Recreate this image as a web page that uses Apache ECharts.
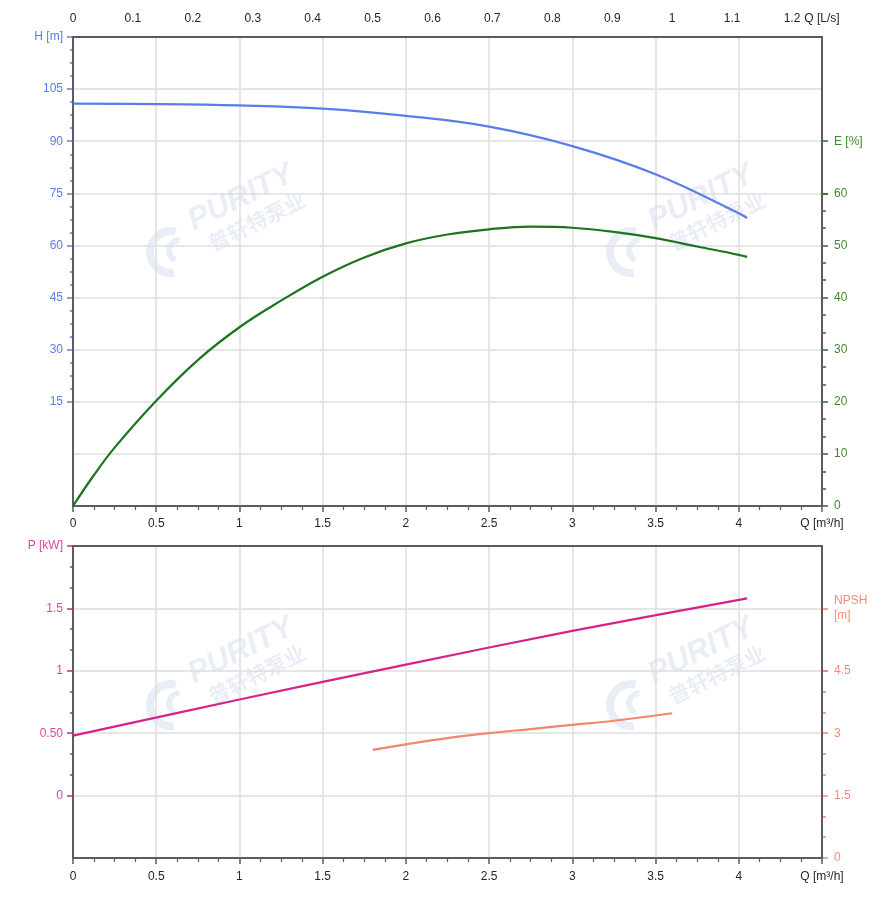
<!DOCTYPE html>
<html><head><meta charset="utf-8">
<script src="https://cdn.jsdelivr.net/npm/echarts@6/dist/echarts.min.js"></script>
<style>html,body{margin:0;padding:0;background:#fff}#c{width:887px;height:912px}</style>
</head><body><div id="c"></div>
<script>
// ---- data ----
const qH    = [0, 0.5, 1, 1.5, 2, 2.5, 3, 3.5, 4, 4.05];
const hVals = [100.8, 100.7, 100.3, 99.4, 97.3, 94.2, 88.6, 80.5, 69.3, 67.9];
const qE    = [0, 0.125, 0.25, 0.5, 0.75, 1, 1.25, 1.5, 1.75, 2, 2.25, 2.5, 2.75, 3, 3.25, 3.5, 3.75, 4, 4.05];
const eVals = [0, 5.9, 11.2, 20.2, 28.0, 34.3, 39.4, 44.0, 47.7, 50.4, 52.1, 53.1, 53.6, 53.4, 52.6, 51.4, 49.8, 48.2, 47.8];
const qP    = [0, 1, 2, 3, 4.05];
const pVals = [0.48, 0.77, 1.05, 1.32, 1.58];
const qN    = [1.8, 2, 2.25, 2.5, 2.75, 3, 3.25, 3.6];
const nVals = [2.6, 2.73, 2.88, 3.0, 3.1, 3.2, 3.3, 3.48];
const qName = 'Q [m³/h]', qlsName = 'Q [L/s]';
const hName = 'H [m]', eName = 'E [%]', pName = 'P [kW]', nName = 'NPSH\n[m]';

// ---- layout ----
const L = 73, W = 749, T1 = 37, H1 = 469, T2 = 546, H2 = 312;
const yAt = (top, h, mn, mx, v) => top + h * (mx - v) / (mx - mn);
const hTickBottom = yAt(T1, H1, -15, 120, 15);
const eTickTop = yAt(T1, H1, 0, 90, 60);
const eNameTop = yAt(T1, H1, 0, 90, 70);
const pTickBottom = yAt(T2, H2, -0.5, 2, 0);
const nTickTop = yAt(T2, H2, 0, 7.5, 4.5);
const nNameTop = yAt(T2, H2, 0, 7.5, 6);

const FONT = "'Liberation Sans', Arial, sans-serif";
const C_H = '#5a7de9', C_E = '#1c7420', C_EL = '#3f8a2c', C_P = '#d6228b', C_PL = '#e0449c', C_N = '#f5866d', C_NL = '#f68c7a';
const AX = '#5c5c5c', GRID = '#dedede';

const pair = (xs, ys) => xs.map((x, i) => [x, ys[i]]);
const NOLINE = { show: false, onZero: false };
const OFF = { show: false };
const SPLIT = { show: true, showMinLine: false, showMaxLine: false, lineStyle: { color: GRID, width: 1.5 } };
const hidden = (g) => ({ gridIndex: g, type: 'value', min: 0, max: 1, axisLine: NOLINE, axisTick: OFF, axisLabel: OFF, splitLine: OFF });
const lab = (color, margin, extra) => Object.assign({ color, fontSize: 12, fontFamily: FONT, margin }, extra || {});
const mainGrid = (top, h) => ({ left: L, width: W, top, height: h, show: true, borderColor: AX, borderWidth: 2, z: 3 });
const helpGrid = (top, h, w) => ({ left: L, width: w || W, top, height: h, show: false });

const chart = echarts.init(document.getElementById('c'), null, { renderer: 'canvas' });

function mark(x, y) {
  const fill = 'rgba(175,190,218,0.28)';
  return {
    type: 'group', x, y, rotation: 0.46,
    children: [
      { type: 'text', style: { text: 'PURITY', x: 0, y: 0, verticalAlign: 'bottom', font: 'italic bold 31px ' + FONT, fill } },
      { type: 'text', style: { text: '普轩特泵业', x: 8, y: 2, verticalAlign: 'top', font: "bold 21px 'Noto Sans CJK SC'", fill } },
      { type: 'arc', shape: { cx: -30, cy: 2, r: 21, startAngle: 1.9, endAngle: 5.4 }, style: { stroke: fill, lineWidth: 8, fill: null } },
      { type: 'arc', shape: { cx: -22, cy: 4, r: 10, startAngle: 2.4, endAngle: 5.2 }, style: { stroke: fill, lineWidth: 6, fill: null } }
    ]
  };
}

function tickAxis(g, pos, mn, mx, step, color, labColor, margin, minorN, minorLen, fmt) {
  const ax = { gridIndex: g, type: 'value', min: mn, max: mx, interval: step, position: pos,
    axisLine: NOLINE,
    axisTick: { show: true, length: 6, lineStyle: { color, width: 1.5 } },
    axisLabel: lab(labColor, margin, { showMaxLabel: true, showMinLabel: true, formatter: fmt }),
    splitLine: OFF };
  if (minorN) ax.minorTick = { show: true, splitNumber: minorN, length: minorLen, lineStyle: { color, width: 1.5 } };
  return ax;
}

const option = {
  animation: false,
  backgroundColor: '#fff',
  textStyle: { fontFamily: FONT },
  grid: [
    mainGrid(T1, H1), mainGrid(T2, H2),
    helpGrid(T1, hTickBottom - T1),
    helpGrid(eTickTop, T1 + H1 - eTickTop),
    helpGrid(T1, H1, W * 1.2 / 1.25),
    helpGrid(T2, pTickBottom - T2),
    helpGrid(nTickTop, T2 + H2 - nTickTop),
    helpGrid(eNameTop, eTickTop - eNameTop),
    helpGrid(nNameTop, nTickTop - nNameTop)
  ],
  xAxis: [
    { gridIndex: 0, type: 'value', min: 0, max: 4.5, interval: 0.5, position: 'bottom',
      axisLine: NOLINE,
      axisTick: { show: true, length: 6, lineStyle: { color: AX, width: 1.5 } },
      minorTick: { show: true, splitNumber: 4, length: 4, lineStyle: { color: AX, width: 1.2 } },
      axisLabel: lab('#262626', 12, { showMaxLabel: true, formatter: v => v === 4.5 ? qName : String(v) }),
      splitLine: SPLIT },
    { gridIndex: 0, type: 'value', min: 0, max: 1.25, interval: 0.1, position: 'top',
      axisLine: NOLINE, axisTick: OFF,
      axisLabel: lab('#262626', 12, { showMaxLabel: true, showMinLabel: true,
        formatter: v => Math.abs(v - 1.25) < 1e-6 ? qlsName : String(+v.toFixed(1)) }),
      splitLine: OFF },
    { gridIndex: 1, type: 'value', min: 0, max: 4.5, interval: 0.5, position: 'bottom',
      axisLine: NOLINE,
      axisTick: { show: true, length: 6, lineStyle: { color: AX, width: 1.5 } },
      minorTick: { show: true, splitNumber: 4, length: 4, lineStyle: { color: AX, width: 1.2 } },
      axisLabel: lab('#262626', 13, { showMaxLabel: true, formatter: v => v === 4.5 ? qName : String(v) }),
      splitLine: SPLIT },
    hidden(2), hidden(3),
    { gridIndex: 4, type: 'value', min: 0, max: 1.2, interval: 0.1, position: 'top',
      axisLine: NOLINE,
      axisTick: { show: true, length: 6, lineStyle: { color: AX, width: 1.5 } },
      minorTick: { show: true, splitNumber: 3, length: 4, lineStyle: { color: AX, width: 1.2 } },
      axisLabel: OFF, splitLine: OFF },
    hidden(5), hidden(6), hidden(7), hidden(8)
  ],
  yAxis: [
    { gridIndex: 0, type: 'value', min: -15, max: 120, interval: 15, position: 'left',
      axisLine: NOLINE, axisTick: OFF, axisLabel: OFF, splitLine: SPLIT },
    { gridIndex: 0, type: 'value', min: 0, max: 90, interval: 10, position: 'right',
      axisLine: NOLINE, axisTick: OFF, axisLabel: OFF, splitLine: OFF },
    { gridIndex: 1, type: 'value', min: -0.5, max: 2, interval: 0.5, position: 'left',
      axisLine: NOLINE, axisTick: OFF, axisLabel: OFF, splitLine: SPLIT },
    { gridIndex: 1, type: 'value', min: 0, max: 7.5, interval: 1.5, position: 'right',
      axisLine: NOLINE, axisTick: OFF, axisLabel: OFF, splitLine: OFF },
    tickAxis(2, 'left', 15, 120, 15, C_H, C_H, 10, 4, 3, v => v === 120 ? hName : String(v)),
    tickAxis(3, 'right', 0, 60, 10, C_E, C_EL, 12, 3, 4, v => String(v)),
    tickAxis(5, 'left', 0, 2, 0.5, C_P, C_PL, 10, 3, 3, v => v === 2 ? pName : (v === 0.5 ? '0.50' : String(v))),
    tickAxis(6, 'right', 0, 4.5, 1.5, C_N, C_NL, 12, 3, 4, v => String(v)),
    tickAxis(7, 'right', 60, 70, 10, C_E, C_EL, 12, 0, 0, v => v === 70 ? eName : ''),
    Object.assign(tickAxis(8, 'right', 4.5, 6, 1.5, C_N, C_NL, 12, 0, 0, v => v === 6 ? nName : ''),
      { axisLabel: lab(C_NL, 12, { showMaxLabel: true, showMinLabel: true, lineHeight: 15, align: 'left',
        formatter: v => v === 6 ? nName : '' }) })
  ],
  series: [
    { name: 'H', type: 'line', xAxisIndex: 0, yAxisIndex: 0, data: pair(qH, hVals), smooth: 0.4,
      showSymbol: false, lineStyle: { color: C_H, width: 2.2 }, z: 5 },
    { name: 'E', type: 'line', xAxisIndex: 0, yAxisIndex: 1, data: pair(qE, eVals), smooth: 0.4,
      showSymbol: false, lineStyle: { color: C_E, width: 2.2 }, z: 5 },
    { name: 'P', type: 'line', xAxisIndex: 2, yAxisIndex: 2, data: pair(qP, pVals), smooth: 0.3,
      showSymbol: false, lineStyle: { color: C_P, width: 2.2 }, z: 5 },
    { name: 'NPSH', type: 'line', xAxisIndex: 2, yAxisIndex: 3, data: pair(qN, nVals), smooth: 0.4,
      showSymbol: false, lineStyle: { color: C_N, width: 2.2 }, z: 5 }
  ],
  graphic: [mark(197, 237), mark(657, 237), mark(197, 690), mark(657, 690)]
};

let failed = false;
try { chart.setOption(option); } catch (e) { failed = true; }
if (failed) {
  // keep one failing view from stopping the remaining views from drawing
  const views = [].concat(chart._componentsViews || [], chart._chartsViews || []);
  views.forEach(v => {
    if (!v || typeof v.render !== 'function' || v.__guarded) return;
    const orig = v.render;
    v.render = function () {
      try { return orig.apply(this, arguments); } catch (e) { /* ignore */ }
    };
    v.__guarded = true;
  });
  try { chart.setOption({ backgroundColor: '#fff' }); } catch (e) { /* ignore */ }
}
</script></body></html>
